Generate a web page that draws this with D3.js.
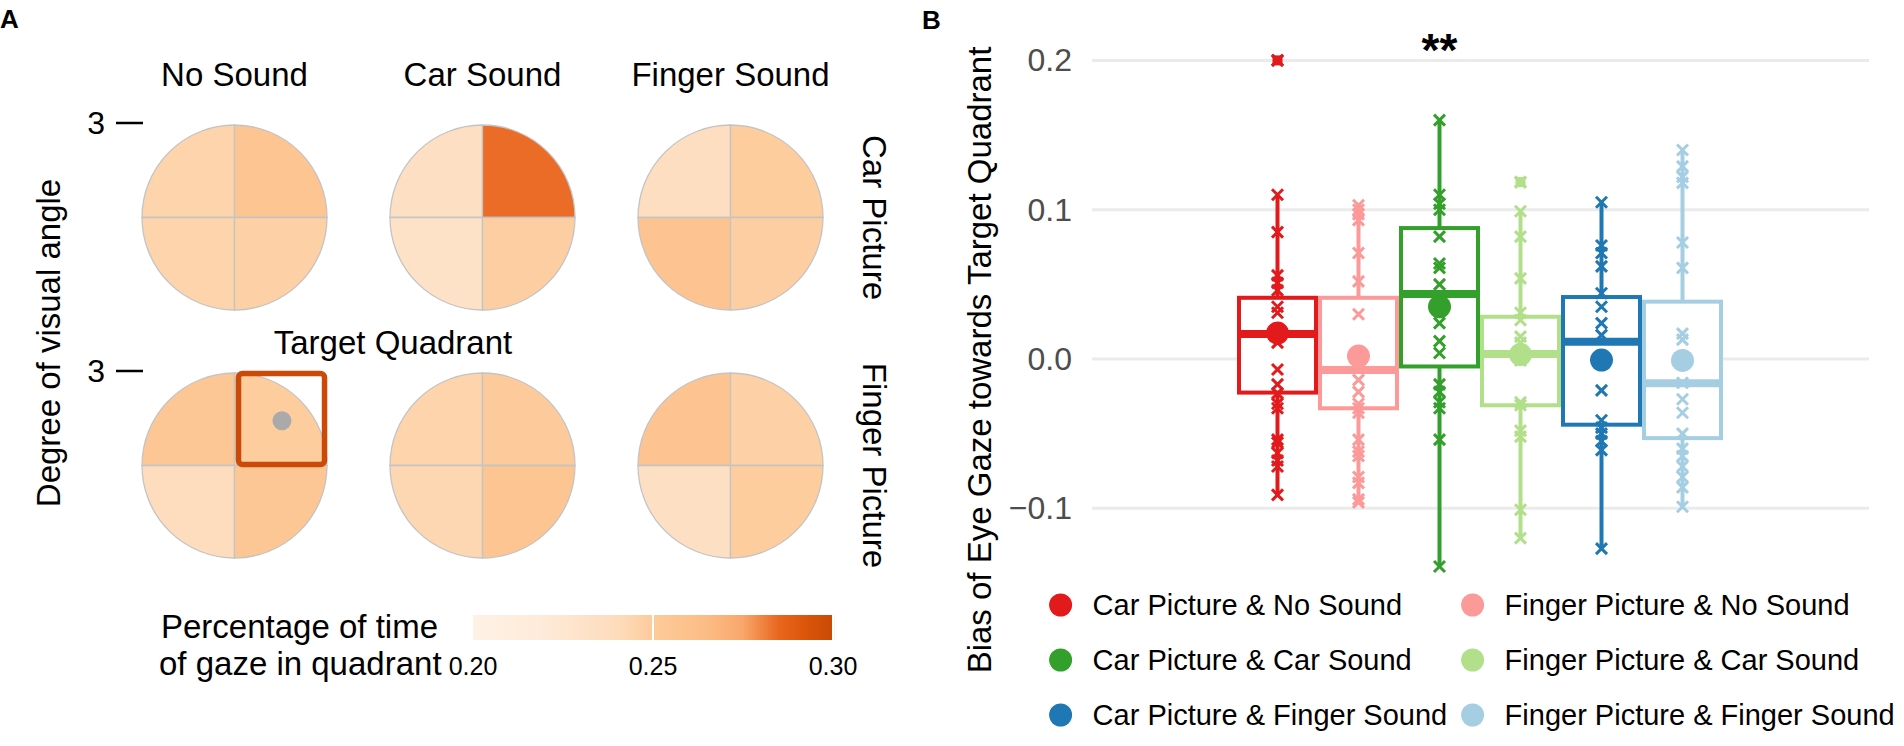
<!DOCTYPE html>
<html>
<head>
<meta charset="utf-8">
<script src="https://cdn.jsdelivr.net/npm/d3@7"></script>
<style>
  body { margin: 0; background: #fff; }
  svg { display: block; font-family: "Liberation Sans", Arial, sans-serif; }
</style>
</head>
<body>
<div class="container"></div>
<script>
// ---- panel A data: share of gaze time per quadrant [TL, TR, BL, BR]
const sounds = ['No Sound', 'Car Sound', 'Finger Sound'];
const pictures = ['Car Picture', 'Finger Picture'];
const quadrants = ['TL', 'TR', 'BL', 'BR'];
const carPictureGaze = [
    [0.245, 0.256, 0.245, 0.247],
    [0.235, 0.284, 0.232, 0.248],
    [0.237, 0.249, 0.257, 0.248]
];
const fingerPictureGaze = [
    [0.254, 0.249, 0.239, 0.254],
    [0.245, 0.250, 0.243, 0.256],
    [0.257, 0.247, 0.234, 0.249]
];
const colorTicks = [0.20, 0.25, 0.30];
const colorStops = [0.200, 0.220, 0.240, 0.250, 0.265, 0.275, 0.285, 0.292, 0.300];
const colorStopHex = ['#fef2e6', '#feead8', '#fddcbc', '#fdcb9b', '#fcbc85', '#f9a66a', '#e8661e', '#dc560a', '#c84a05'];

// ---- panel B data: bias of eye gaze towards target quadrant
const groups = ['Car Picture & No Sound', 'Finger Picture & No Sound', 'Car Picture & Car Sound',
    'Finger Picture & Car Sound', 'Car Picture & Finger Sound', 'Finger Picture & Finger Sound'];
const groupColors = ['#e31a1c', '#fb9a99', '#33a02c', '#b2df8a', '#1f78b4', '#a6cee3'];
const whiskerLow = [-0.091, -0.096, -0.139, -0.120, -0.127, -0.099];
const q1 = [-0.0225, -0.033, -0.005, -0.031, -0.044, -0.053];
const median = [0.0167, -0.0074, 0.0435, 0.0033, 0.0116, -0.0163];
const q3 = [0.041, 0.041, 0.0877, 0.0283, 0.0415, 0.0384];
const whiskerHigh = [0.110, 0.103, 0.160, 0.0987, 0.1055, 0.140];
const means = [0.0174, 0.002, 0.035, 0.003, -0.0007, -0.001];
const outliers = [[0.200], [], [], [0.1185], [], []];
const points = [
    [0.200, 0.110, 0.085, 0.056, 0.051, 0.046, 0.035, 0.031, 0.020, 0.011, -0.007, -0.017, -0.023, -0.030, -0.033, -0.054, -0.056, -0.063, -0.068, -0.072, -0.091],
    [0.103, 0.100, 0.097, 0.093, 0.071, 0.052, 0.030, 0.004, -0.014, -0.022, -0.030, -0.033, -0.036, -0.054, -0.062, -0.065, -0.079, -0.083, -0.094, -0.096],
    [0.160, 0.110, 0.104, 0.100, 0.082, 0.064, 0.061, 0.050, 0.035, 0.024, 0.012, 0.004, -0.017, -0.022, -0.029, -0.033, -0.054, -0.139],
    [0.1185, 0.099, 0.082, 0.054, 0.031, 0.026, 0.015, 0.011, 0.003, -0.001, -0.029, -0.031, -0.048, -0.052, -0.101, -0.120],
    [0.105, 0.076, 0.071, 0.062, 0.044, 0.035, 0.024, 0.016, -0.021, -0.041, -0.046, -0.050, -0.055, -0.061, -0.127],
    [0.140, 0.129, 0.122, 0.118, 0.078, 0.061, 0.017, 0.013, -0.016, -0.027, -0.036, -0.050, -0.060, -0.065, -0.072, -0.079, -0.086, -0.099]
];
const yTicks = [-0.1, 0, 0.1, 0.2];
const legendCols = [[0, 2, 4], [1, 3, 5]];

const w = 1904;
const h = 746;

const svg = d3.select('.container')
    .append('svg')
    .attr('width', w)
    .attr('height', h)
    .attr('viewBox', [0, 0, w, h]);

// ================= panel A =================
const xCol = d3.scalePoint().domain(sounds).range([234.5, 730.5]);
const yRow = d3.scalePoint().domain(pictures).range([217.5, 465.5]);
const deg = d3.scaleLinear().domain([0, 3]).range([0, 92.5]);   // degree of visual angle -> px
const fill = d3.scaleLinear().domain(colorStops).range(colorStopHex).interpolate(d3.interpolateRgb);

const quadAngles = {
    TL: [-Math.PI / 2, 0],
    TR: [0, Math.PI / 2],
    BR: [Math.PI / 2, Math.PI],
    BL: [Math.PI, 1.5 * Math.PI]
};
const arc = d3.arc().innerRadius(0).outerRadius(deg(3));

svg.append('text')
    .attr('x', 0).attr('y', 28)
    .style('font-size', '26px').style('font-weight', 'bold')
    .text('A');

const cells = [];
pictures.forEach((p, pi) => {
    const vals = pi === 0 ? carPictureGaze : fingerPictureGaze;
    sounds.forEach((s, si) => {
        quadrants.forEach((q, qi) => cells.push({ picture: p, sound: s, quad: q, value: vals[si][qi] }));
    });
});

svg.append('g').selectAll('path')
    .data(cells)
    .join('path')
    .attr('transform', d => `translate(${xCol(d.sound)},${yRow(d.picture)})`)
    .attr('d', d => arc({ startAngle: quadAngles[d.quad][0], endAngle: quadAngles[d.quad][1] }))
    .attr('fill', d => fill(d.value))
    .attr('stroke', '#c4c4c4')
    .attr('stroke-width', 1.3);

// column headers
svg.append('g').selectAll('text')
    .data(sounds)
    .join('text')
    .attr('x', d => xCol(d))
    .attr('y', 86)
    .attr('text-anchor', 'middle')
    .style('font-size', '33px')
    .text(d => d);

// row strips
svg.append('g').selectAll('text')
    .data(pictures)
    .join('text')
    .attr('transform', d => `translate(874,${yRow(d)}) rotate(90)`)
    .attr('text-anchor', 'middle')
    .attr('dominant-baseline', 'central')
    .style('font-size', '33px')
    .text(d => d);

// "3" ticks
pictures.forEach(p => {
    const ty = yRow(p) - deg(3) - 2;
    svg.append('line')
        .attr('x1', 116).attr('x2', 143)
        .attr('y1', ty).attr('y2', ty)
        .attr('stroke', '#000').attr('stroke-width', 2.5);
    svg.append('text')
        .attr('x', 105).attr('y', ty)
        .attr('text-anchor', 'end')
        .attr('dominant-baseline', 'central')
        .style('font-size', '32px')
        .text('3');
});

svg.append('text')
    .attr('transform', 'translate(48,343) rotate(-90)')
    .attr('text-anchor', 'middle')
    .attr('dominant-baseline', 'central')
    .style('font-size', '33px')
    .text('Degree of visual angle');

// target quadrant marker
const tcx = xCol('No Sound');
const tcy = yRow('Finger Picture');
svg.append('rect')
    .attr('x', tcx + deg(0.13))
    .attr('y', tcy - deg(2.98))
    .attr('width', deg(2.79))
    .attr('height', deg(2.95))
    .attr('rx', 4)
    .attr('fill', 'none')
    .attr('stroke', '#cc4a08')
    .attr('stroke-width', 5.5);
svg.append('circle')
    .attr('cx', tcx + deg(1.54))
    .attr('cy', tcy - deg(1.45))
    .attr('r', 9.5)
    .attr('fill', '#aaaaaa');
svg.append('text')
    .attr('x', 393).attr('y', 354)
    .attr('text-anchor', 'middle')
    .style('font-size', '33px')
    .text('Target Quadrant');

// colour bar
const cx = d3.scaleLinear().domain([0.2, 0.3]).range([473, 833]);
const grad = svg.append('defs').append('linearGradient')
    .attr('id', 'gazeGrad')
    .attr('gradientUnits', 'userSpaceOnUse')
    .attr('x1', cx(0.2)).attr('x2', cx(0.3003)).attr('y1', 0).attr('y2', 0);
grad.selectAll('stop')
    .data(d3.range(0, 41).map(i => 0.2 + i * 0.0025))
    .join('stop')
    .attr('offset', d => (cx(d) - cx(0.2)) / (cx(0.3003) - cx(0.2)))
    .attr('stop-color', d => fill(d));
svg.append('rect')
    .attr('x', cx(0.2)).attr('y', 615)
    .attr('width', cx(0.3003) - cx(0.2)).attr('height', 25)
    .attr('fill', 'url(#gazeGrad)');
svg.append('g').selectAll('line')
    .data(colorTicks.slice(1))
    .join('line')
    .attr('x1', d => cx(d)).attr('x2', d => cx(d))
    .attr('y1', 615).attr('y2', 640)
    .attr('stroke', '#fff').attr('stroke-width', 2);
svg.append('g').selectAll('text')
    .data(colorTicks)
    .join('text')
    .attr('x', d => cx(d)).attr('y', 675)
    .attr('text-anchor', 'middle')
    .style('font-size', '25px')
    .text(d => d3.format('.2f')(d));
svg.append('text')
    .attr('x', 161).attr('y', 638)
    .style('font-size', '33px')
    .text('Percentage of time');
svg.append('text')
    .attr('x', 159).attr('y', 675)
    .style('font-size', '33px')
    .text('of gaze in quadrant');

// ================= panel B =================
const y = d3.scaleLinear().domain([-0.1, 0.2]).range([508.3, 60.4]);
const x = d3.scaleBand().domain(groups).range([1237, 1723]).padding(0);
const bw = x.bandwidth();
const mid = g => x(g) + bw / 2;

svg.append('text')
    .attr('x', 922).attr('y', 29)
    .style('font-size', '26px').style('font-weight', 'bold')
    .text('B');

svg.append('g').selectAll('line')
    .data(yTicks)
    .join('line')
    .attr('x1', 1092).attr('x2', 1869)
    .attr('y1', d => y(d)).attr('y2', d => y(d))
    .attr('stroke', '#ebebeb').attr('stroke-width', 3);

svg.append('g').selectAll('text')
    .data(yTicks)
    .join('text')
    .attr('x', 1072).attr('y', d => y(d))
    .attr('text-anchor', 'end')
    .attr('dominant-baseline', 'central')
    .attr('fill', '#4d4d4d')
    .style('font-size', '32px')
    .text(d => d3.format('.1f')(d));

svg.append('text')
    .attr('transform', 'translate(979,360) rotate(-90)')
    .attr('text-anchor', 'middle')
    .attr('dominant-baseline', 'central')
    .style('font-size', '33px')
    .text('Bias of Eye Gaze towards Target Quadrant');

const box = svg.append('g').selectAll('g')
    .data(groups)
    .join('g');

// whiskers
box.append('line')
    .attr('x1', d => mid(d)).attr('x2', d => mid(d))
    .attr('y1', (d, i) => y(whiskerHigh[i])).attr('y2', (d, i) => y(q3[i]))
    .attr('stroke', (d, i) => groupColors[i]).attr('stroke-width', 4);
box.append('line')
    .attr('x1', d => mid(d)).attr('x2', d => mid(d))
    .attr('y1', (d, i) => y(q1[i])).attr('y2', (d, i) => y(whiskerLow[i]))
    .attr('stroke', (d, i) => groupColors[i]).attr('stroke-width', 4);
// box
box.append('rect')
    .attr('x', d => x(d) + 2)
    .attr('width', bw - 4)
    .attr('y', (d, i) => y(q3[i]))
    .attr('height', (d, i) => y(q1[i]) - y(q3[i]))
    .attr('fill', '#fff')
    .attr('stroke', (d, i) => groupColors[i]).attr('stroke-width', 4);
box.append('line')
    .attr('x1', d => x(d) + 2).attr('x2', d => x(d) + bw - 2)
    .attr('y1', (d, i) => y(median[i])).attr('y2', (d, i) => y(median[i]))
    .attr('stroke', (d, i) => groupColors[i]).attr('stroke-width', 8);

const cross = (sel, size, sw) => sel.append('path')
    .attr('d', `M${-size},${-size}L${size},${size}M${-size},${size}L${size},${-size}`)
    .attr('stroke-width', sw);

// outliers
const outs = [];
groups.forEach((g, i) => outliers[i].forEach(v => outs.push({ g, i, v })));
const outG = svg.append('g').selectAll('g')
    .data(outs)
    .join('g')
    .attr('transform', d => `translate(${mid(d.g)},${y(d.v)})`)
    .attr('stroke', d => groupColors[d.i]);
outG.append('rect')
    .attr('x', -5).attr('y', -5).attr('width', 10).attr('height', 10)
    .attr('fill', d => groupColors[d.i]).attr('stroke', 'none');
cross(outG, 5.5, 3);

// individual points
const pts = [];
groups.forEach((g, i) => points[i].forEach(v => pts.push({ g, i, v })));
const ptG = svg.append('g').selectAll('g')
    .data(pts)
    .join('g')
    .attr('transform', d => `translate(${mid(d.g)},${y(d.v)})`)
    .attr('stroke', d => groupColors[d.i]);
cross(ptG, 5.5, 3);

// means
svg.append('g').selectAll('circle')
    .data(groups)
    .join('circle')
    .attr('cx', d => mid(d))
    .attr('cy', (d, i) => y(means[i]))
    .attr('r', 11.5)
    .attr('fill', (d, i) => groupColors[i]);

// significance
svg.append('text')
    .attr('x', mid(groups[2])).attr('y', 66)
    .attr('text-anchor', 'middle')
    .style('font-size', '46px').style('font-weight', 'bold')
    .text('**');

// legend
const legX = [1060.6, 1472.6];
const legY = [605, 660, 715];
legendCols.forEach((col, ci) => {
    col.forEach((gi, ri) => {
        svg.append('circle')
            .attr('cx', legX[ci]).attr('cy', legY[ri])
            .attr('r', 11.5)
            .attr('fill', groupColors[gi]);
        svg.append('text')
            .attr('x', legX[ci] + 32).attr('y', legY[ri])
            .attr('dominant-baseline', 'central')
            .style('font-size', '29px')
            .text(groups[gi]);
    });
});
</script>
</body>
</html>
